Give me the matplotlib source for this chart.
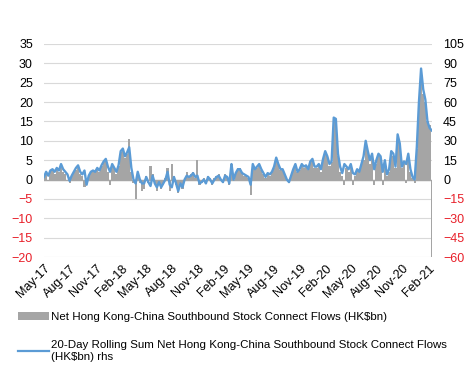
import numpy as np
import pandas as pd
import matplotlib
matplotlib.use('Agg')
import matplotlib.pyplot as plt
from matplotlib.patches import Patch
from matplotlib.lines import Line2D

plt.rcParams['font.family'] = ['Liberation Sans', 'DejaVu Sans']

# weekly-ish readings, May-17 .. Feb-21 (4 per month)
net_flows = [
    0.5, 1.5, -0.5, 2,   2.5, 1.5, 3, 2,   3.5, 2, 1.5, -0.5,   -1, 1, 2, 2.5,
    3, 1.5, 1, -2,   -1, 1, 2, 2.5,   2, 3, 2, 3.5,   4.5, 5, 2, -1.5,
    4, 3, 1.5, 3.5,   7, 8, 5.5, 6.5,   10.5, 2, -1, -5,   2, -1, -3, -2.5,
    1, -1, 3.5, 1.5,   -1, -3, -1, -2.5,   -1.5, 0.5, 3, -3,   4, 1, -1.5, -3.5,
    -1, -2.5, 0.5, 2,   1, 1.5, 2, 0.5,   5, -1.5, -1, 0.5,   -1, 1, 0.5, -1.5,
    0.5, 1, 1.5, -0.5,   -1, 1.5, 1, -1.5,   4, -0.5, 2, 3,   3, 2, 1, 1,
    0.5, -4, 4, 2.5,   3, 4, 2.5, 1.5,   0.5, 1.5, 1, 2,   3, 5.5, 4, 2.5,
    2.5, 1, -0.5, -1,   1, 2.5, 4, 2,   2.5, 4, 3, 3.5,   2.5, 4.5, 5, 3,
    3, 4, 2, 5,   7, 6, 3.5, 4.5,   16, 15.5, 6, 2,   1, -1.5, 3, 2,
    4, -1.5, 1, 2.5,   2, 3.5, 5, 9,   7, 4, 6, -1.5,   4, 6, 5, -1.5,
    4.5, 1, 2, 7,   6, 3, 10, 9,   3, 4, -1, 6,   2, 0.5, -1, 8,
    20, 27, 22, 20,   15, 14, -21,
]

rolling_sum = [
    2, 6, 3, 7,   8, 6, 9, 7,   12, 8, 6, 4,   -1, 3, 6, 9,
    11, 6, 4, 7,   -4, 3, 6, 7,   6, 9, 7, 11,   14, 16, 10, 6,
    12, 9, 6, 11,   22, 24, 18, 21,   25, 9, 0, -3,   6, 0, -3, -3,
    2, -2, -5, 3,   -3, -6, -2, -6,   -3, 0, 6, -4,   -6, 2, -3, -9,
    -3, -6, 0, 3,   2, 3, 5, 2,   3, -3, -2, 0,   -3, 2, 0, -3,
    0, 2, 3, 0,   -2, 3, 2, -3,   12, 0, 5, 8,   8, 5, 4, 3,
    2, -4, 12, 8,   10, 12, 8, 5,   2, 5, 4, 6,   10, 17, 12, 8,
    8, 4, 0, -2,   3, 8, 12, 6,   8, 12, 10, 11,   8, 14, 16, 10,
    10, 12, 8, 16,   22, 18, 12, 14,   48, 47, 20, 10,   5, 12, 10, 8,
    12, 5, 4, 8,   6, 12, 18, 30,   22, 15, 20, 8,   15, 20, 18, 6,
    15, 4, 8, 22,   20, 10, 35, 28,   10, 14, 12, 20,   8, 2, 0, 25,
    60, 86, 70, 62,   45, 40, 38,
]

dates = pd.date_range('2017-05-01', '2021-02-14', periods=len(rolling_sum))

grey = '#A5A5A5'
blue = '#5B9BD5'
red = '#E8202A'

fig = plt.figure(figsize=(4.75, 3.72), dpi=100)
ax = fig.add_axes([44 / 475, 1 - 257 / 372, 388 / 475, 213 / 372])
ax2 = ax.twinx()

ax.bar(dates, net_flows, width=7.6, color=grey, linewidth=0, zorder=2)
ax2.plot(dates, rolling_sum, color=blue, lw=1.7, zorder=3)

ax.set_xlim(pd.Timestamp('2017-05-01'), pd.Timestamp('2021-02-15'))
ax.set_ylim(-20, 35)
ax2.set_ylim(-60, 105)
ax.set_yticks(np.arange(-20, 36, 5))
ax2.set_yticks(np.arange(-60, 106, 15))

ax.grid(axis='y', color='#D9D9D9', lw=0.8, zorder=0)
ax.set_axisbelow(True)
ax.axhline(0, color='#A6A6A6', lw=1, zorder=1)

for a in (ax, ax2):
    for s in a.spines.values():
        s.set_visible(False)
    a.tick_params(length=0, labelsize=9)

ax.tick_params(axis='y', pad=8)
ax2.tick_params(axis='y', pad=8)
for lab, v in zip(ax.get_yticklabels(), ax.get_yticks()):
    lab.set_color(red if v < 0 else 'black')
for lab, v in zip(ax2.get_yticklabels(), ax2.get_yticks()):
    lab.set_color(red if v < 0 else 'black')

xt = pd.date_range('2017-05-01', '2021-02-01', freq='3MS')
ax.set_xticks(xt)
ax.set_xticklabels([d.strftime('%b-%y') for d in xt], rotation=45, ha='right',
                   rotation_mode='anchor', fontsize=9)
ax.tick_params(axis='x', pad=4)

handles = [Patch(facecolor=grey, edgecolor='none'), Line2D([], [], color=blue, lw=1.6)]
labels = ['Net Hong Kong-China Southbound Stock Connect Flows (HK$bn)',
          '20-Day Rolling Sum Net Hong Kong-China Southbound Stock Connect Flows\n(HK$bn) rhs']
fig.legend(handles, labels, loc='upper left', bbox_to_anchor=(18 / 475, 1 - 312 / 372),
           frameon=False, fontsize=8.25, handlelength=2.7, handletextpad=0.15,
           labelspacing=1.6, borderpad=0, borderaxespad=0)

fig.savefig('out.png', dpi=100)
